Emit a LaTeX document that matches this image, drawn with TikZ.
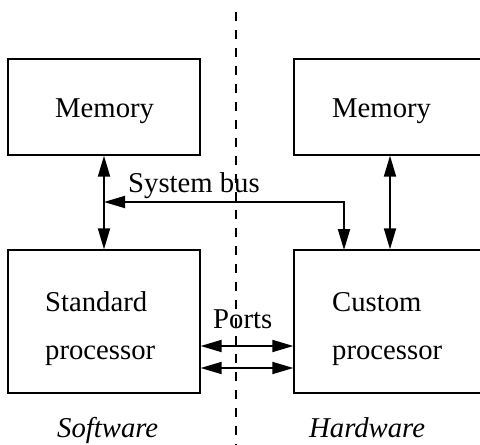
\documentclass[tikz,border=0pt]{standalone}
\usepackage{fontspec}
\setmainfont{Liberation Serif}
\usetikzlibrary{arrows.meta}
\begin{document}
\begin{tikzpicture}[x=1pt,y=-1pt,
  box/.style={draw,line width=1.3pt,minimum width=192pt,minimum height=96pt,inner sep=0pt},
  pbox/.style={draw,line width=1.3pt,minimum width=192pt,minimum height=143pt,inner sep=0pt},
  lbl/.style={anchor=base west,inner sep=0pt,font=\fontsize{28.7}{30}\selectfont},
  ilbl/.style={lbl,font=\fontsize{28.7}{30}\selectfont\itshape},
  conn/.style={line width=1.8pt,{Triangle[length=21pt,width=12pt]}-{Triangle[length=21pt,width=12pt]}},
  divider/.style={line width=1.5pt,dash pattern=on 9pt off 9pt}]
\useasboundingbox (0,0) rectangle (480,445);
\clip (0,0) rectangle (480,445);
% divider
\coordinate (dtop) at (236,12);
\coordinate (dbot) at (236,445);
\draw[divider] (dtop) -- (dbot);
% boxes
\node[box] (mem1) at (104,107) {};
\node[box] (mem2) at (390,107) {};
\node[pbox] (cpu1) at (104,321.5) {};
\node[pbox] (cpu2) at (390,321.5) {};
% texts
\node[lbl] (t1) at (55,117) {Memory};
\node[lbl] (t2) at (332,117) {Memory};
\node[lbl] (t3) at (45,311) {Standard};
\node[lbl] (t4) at (45,359) {processor};
\node[lbl] (t5) at (332,311) {Custom};
\node[lbl] (t6) at (332,359) {processor};
\node[lbl] (t7) at (128,192) {System bus};
\node[lbl] (t8) at (213,328) {Ports};
\node[ilbl] (t9) at (57,437) {Software};
\node[ilbl] (t10) at (309,437) {Hardware};
% connectors
\draw[conn] (mem1.south) -- (cpu1.north);
\draw[conn] (mem2.south) -- (cpu2.north);
\coordinate (busjoin) at (104,202);
\coordinate (busdrop) at (344,250);
\draw[conn] (busjoin) -| (busdrop);
\coordinate (p1) at (0,346);
\coordinate (p2) at (0,368);
\draw[conn] (cpu1.east |- p1) -- (cpu2.west |- p1);
\draw[conn] (cpu1.east |- p2) -- (cpu2.west |- p2);
\end{tikzpicture}
\end{document}
